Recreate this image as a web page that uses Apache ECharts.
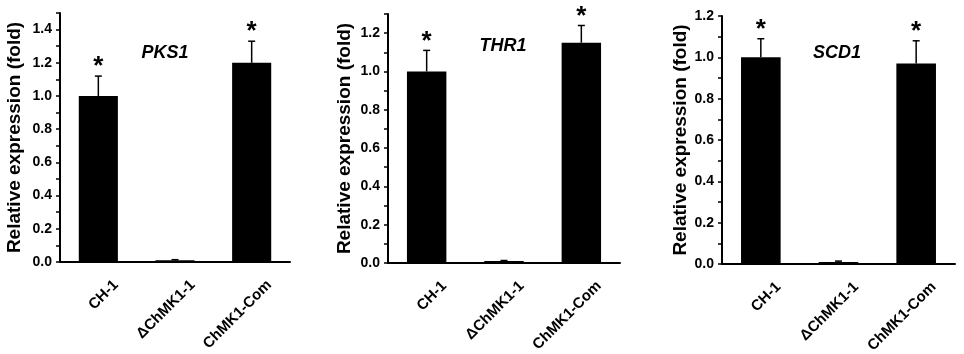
<!DOCTYPE html>
<html>
<head>
<meta charset="utf-8">
<script src="https://cdn.jsdelivr.net/npm/echarts@6/dist/echarts.min.js"></script>
<style>
  html, body { margin: 0; padding: 0; background: #fff; }
  #chart { width: 964px; height: 354px; }
</style>
</head>
<body>
<div id="chart"></div>
<script>
// strains on the x axis
const categories = ['CH-1', 'ΔChMK1-1', 'ChMK1-Com']
// gene names, one per panel
const genes = ['PKS1', 'THR1', 'SCD1']
// mean relative expression (fold) and upper error
const pks1Mean = [1.0, 0.01, 1.2]
const pks1Err = [0.12, 0.004, 0.13]
const thr1Mean = [1.0, 0.01, 1.15]
const thr1Err = [0.11, 0.003, 0.09]
const scd1Mean = [1.0, 0.01, 0.97]
const scd1Err = [0.09, 0.004, 0.11]
// significance marks
const sigMarks = ['*', '', '*']
// y axis top for each panel
const yMaxes = [1.5, 1.3, 1.2]

const means = [pks1Mean, thr1Mean, scd1Mean]
const errs = [pks1Err, thr1Err, scd1Err]

const FONT = 'Liberation Sans'
// panel frames (px)
const frames = [
  { left: 60, top: 13, width: 230, height: 249, nameGap: 36, titleX: 165, titleY: 44 },
  { left: 388, top: 14, width: 232, height: 249, nameGap: 34, titleX: 503, titleY: 37 },
  { left: 722, top: 16, width: 233, height: 248, nameGap: 30, titleX: 837, titleY: 44 },
]

const grid = []
const xAxis = []
const yAxis = []
const series = []
const title = []

frames.forEach((f, i) => {
  grid.push({
    left: f.left, top: f.top, width: f.width, height: f.height,
    containLabel: false,
    outerBoundsMode: 'none',
  })
  xAxis.push({
    type: 'category',
    gridIndex: i,
    data: categories,
    axisLine: { lineStyle: { color: '#000', width: 2 } },
    axisTick: { alignWithLabel: true, length: 4, lineStyle: { color: '#000', width: 1.5 } },
    axisLabel: {
      rotate: 45,
      margin: 3,
      verticalAlign: 'top',
      lineHeight: 50,
      color: '#000',
      fontFamily: FONT,
      fontWeight: 'bold',
      fontSize: 15,
      interval: 0,
      hideOverlap: false,
    },
  })
  yAxis.push({
    type: 'value',
    gridIndex: i,
    min: 0,
    max: yMaxes[i],
    interval: 0.1,
    name: 'Relative expression (fold)',
    nameLocation: 'middle',
    nameRotate: 90,
    nameGap: f.nameGap,
    nameTextStyle: { color: '#000', fontFamily: FONT, fontWeight: 'bold', fontSize: 19 },
    splitLine: { show: false },
    axisLine: { show: true, lineStyle: { color: '#000', width: 2 } },
    axisTick: { show: true, length: 4, lineStyle: { color: '#000', width: 1.5 } },
    axisLabel: {
      color: '#000',
      fontFamily: FONT,
      fontWeight: 'bold',
      fontSize: 14,
      margin: 8,
      formatter: v => (Math.round(v * 10) % 2 === 0 ? v.toFixed(1) : ''),
    },
  })
  title.push({
    text: genes[i],
    left: f.titleX,
    top: f.titleY,
    textAlign: 'center',
    padding: 0,
    textStyle: { fontFamily: FONT, fontWeight: 'bold', fontStyle: 'italic', fontSize: 18, color: '#000' },
  })
  series.push({
    type: 'bar',
    xAxisIndex: i,
    yAxisIndex: i,
    data: means[i],
    barWidth: '51%',
    itemStyle: { color: '#000' },
    silent: true,
  })
  // error bars + significance stars
  series.push({
    type: 'custom',
    xAxisIndex: i,
    yAxisIndex: i,
    z: 5,
    silent: true,
    data: means[i].map((m, k) => [k, m, errs[i][k]]),
    renderItem (params, api) {
      const base = api.coord([api.value(0), api.value(1)])
      const top = api.coord([api.value(0), api.value(1) + api.value(2)])
      const children = [
        { type: 'line', shape: { x1: base[0], y1: base[1], x2: top[0], y2: top[1] }, style: { stroke: '#000', lineWidth: 1.5 } },
        { type: 'line', shape: { x1: top[0] - 3.5, y1: top[1], x2: top[0] + 3.5, y2: top[1] }, style: { stroke: '#000', lineWidth: 1.5 } },
      ]
      const mark = sigMarks[params.dataIndex]
      if (mark) {
        children.push({
          type: 'text',
          style: {
            text: mark,
            x: top[0],
            y: top[1] - 9,
            align: 'center',
            verticalAlign: 'middle',
            fontFamily: FONT,
            fontWeight: 'bold',
            fontSize: 26,
            fill: '#000',
          },
        })
      }
      return { type: 'group', children }
    },
  })
})

const chart = echarts.init(document.getElementById('chart'))
chart.setOption({
  animation: false,
  backgroundColor: '#fff',
  title,
  grid,
  xAxis,
  yAxis,
  series,
})
</script>
</body>
</html>
